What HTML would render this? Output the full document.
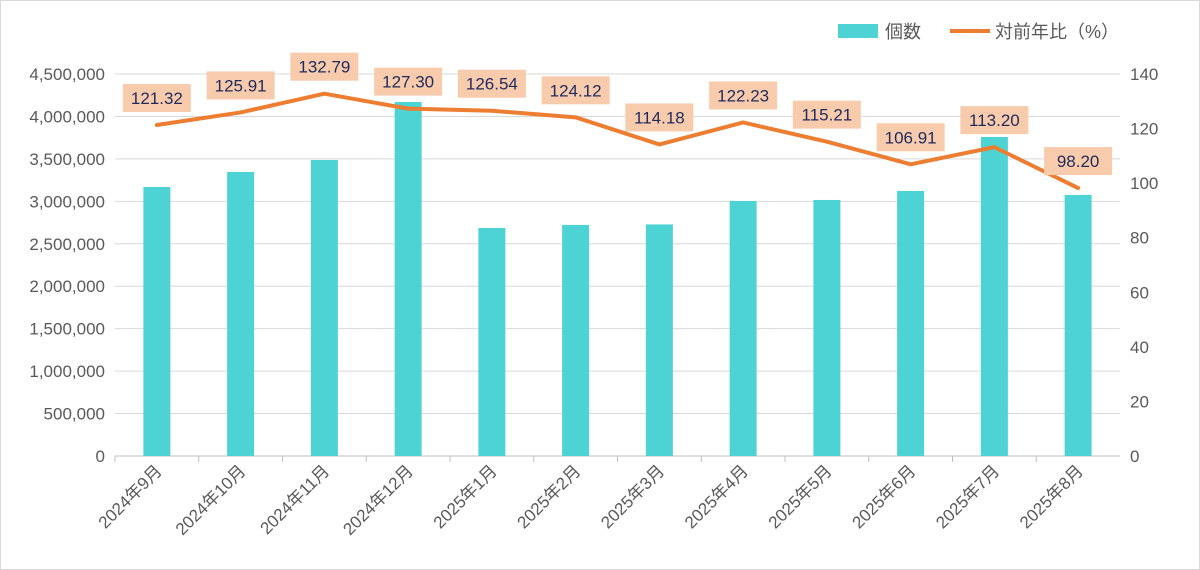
<!DOCTYPE html>
<html><head><meta charset="utf-8"><style>
body{margin:0;background:#fff}
svg{display:block;font-family:"Liberation Sans","Noto Sans CJK JP",sans-serif}
</style></head><body>
<svg id="c" width="1200" height="570"></svg>
<script>
const categories=["2024年9月","2024年10月","2024年11月","2024年12月","2025年1月","2025年2月","2025年3月","2025年4月","2025年5月","2025年6月","2025年7月","2025年8月"];
const counts=[3169000,3346000,3487000,4170000,2686000,2722000,2728000,3004000,3016000,3122000,3758000,3075000];
const ratios=[121.32,125.91,132.79,127.30,126.54,124.12,114.18,122.23,115.21,106.91,113.20,98.20];
const leftTicks=[0,500000,1000000,1500000,2000000,2500000,3000000,3500000,4000000,4500000];
const rightTicks=[0,20,40,60,80,100,120,140];
const NS="http://www.w3.org/2000/svg";
const svg=document.getElementById('c');
function el(t,a,p){const e=document.createElementNS(NS,t);for(const k in a)e.setAttribute(k,a[k]);(p||svg).appendChild(e);return e;}
const x0=115,x1=1120,y0=456,yTop=74;
const yL=v=>y0-(v/4500000)*(y0-yTop);
const yR=v=>y0-(v/140)*(y0-yTop);
const bw=(x1-x0)/categories.length;
const xC=i=>x0+bw*(i+0.5);
let b=el('rect',{x:0.5,y:0.5,width:1199,height:569,fill:'#fff',stroke:'#d9d9d9'});

leftTicks.forEach(v=>{
 if(v>0){let g=el('line',{x1:x0,x2:x1,y1:yL(v),y2:yL(v),stroke:'#d9d9d9','stroke-width':1});
 }
 let t=el('text',{x:105,y:yL(v)+6,'text-anchor':'end','font-size':17,fill:'#595959'});t.textContent=v.toLocaleString('en-US');
 
});
rightTicks.forEach(v=>{
 let t=el('text',{x:1130,y:yR(v)+6,'font-size':17,fill:'#595959'});t.textContent=v;
 
});
let ax=el('line',{x1:x0,x2:x1,y1:y0,y2:y0,stroke:'#bfbfbf'});

categories.forEach((c,i)=>{
 let tk=el('line',{x1:x0+bw*i,x2:x0+bw*i,y1:y0,y2:y0+6,stroke:'#bfbfbf'});
 
 let t=el('text',{x:xC(i)+6,y:y0+16,'text-anchor':'end','font-size':17,fill:'#595959',transform:`rotate(-45 ${xC(i)+6} ${y0+16})`});
 t.textContent=c;
});
counts.forEach((v,i)=>{
 let r=el('rect',{x:xC(i)-13.5,y:yL(v),width:27,height:y0-yL(v),fill:'#4dd3d3'});
 
});
let pl=el('polyline',{points:ratios.map((v,i)=>xC(i)+','+yR(v)).join(' '),fill:'none',stroke:'#ed7d31','stroke-width':4,'stroke-linejoin':'round','stroke-linecap':'round'});

ratios.forEach((v,i)=>{
 const cy=yR(v)-27;
 let r=el('rect',{x:xC(i)-34,y:cy-14,width:68,height:28,fill:'#f8cbad'});
 
 let t=el('text',{x:xC(i),y:cy+6,'text-anchor':'middle','font-size':17,fill:'#1f2a5c'});t.textContent=v.toFixed(2);
 
});
let lg=el('rect',{x:838,y:24,width:40,height:14,fill:'#4dd3d3'});

let lt=el('text',{x:885,y:38,'font-size':18,fill:'#595959'});lt.textContent='個数';

let ll=el('line',{x1:950,x2:990,y1:31,y2:31,stroke:'#ed7d31','stroke-width':4});

let lt2=el('text',{x:995,y:38,'font-size':18,fill:'#595959'});lt2.textContent='対前年比（%）';

</script>
</body></html>
